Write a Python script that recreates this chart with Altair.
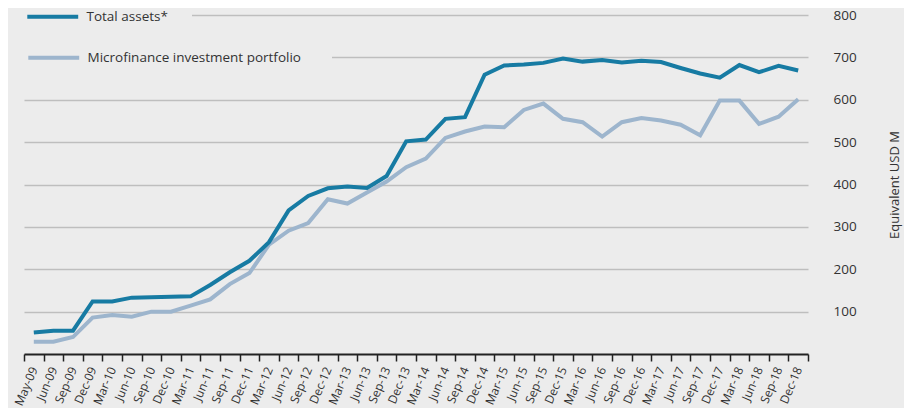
import altair as alt
import pandas as pd

months = ["May-09", "Jun-09", "Sep-09", "Dec-09", "Mar-10", "Jun-10", "Sep-10", "Dec-10",
          "Mar-11", "Jun-11", "Sep-11", "Dec-11", "Mar-12", "Jun-12", "Sep-12", "Dec-12",
          "Mar-13", "Jun-13", "Sep-13", "Dec-13", "Mar-14", "Jun-14", "Sep-14", "Dec-14",
          "Mar-15", "Jun-15", "Sep-15", "Dec-15", "Mar-16", "Jun-16", "Sep-16", "Dec-16",
          "Mar-17", "Jun-17", "Sep-17", "Dec-17", "Mar-18", "Jun-18", "Sep-18", "Dec-18"]

total_assets = [51, 55, 55, 124, 124, 133, 134, 135, 136, 163, 193, 220, 264, 339, 373, 391,
                395, 392, 420, 502, 506, 555, 559, 659, 681, 683, 687, 697, 690, 694, 688, 692,
                689, 675, 662, 652, 682, 665, 680, 669]

portfolio = [29, 29, 40, 86, 92, 88, 100, 100, 114, 129, 165, 191, 258, 291, 309, 365,
             355, 381, 407, 441, 461, 510, 525, 537, 535, 576, 591, 555, 547, 513, 547, 557,
             551, 541, 516, 598, 598, 543, 560, 601]

series_names = ["Total assets*", "Microfinance investment portfolio"]
series_colors = ["#177ba3", "#9db5cd"]
y_ticks = [100, 200, 300, 400, 500, 600, 700, 800]

df = pd.DataFrame({"month": months, series_names[0]: total_assets, series_names[1]: portfolio})
long = df.melt(id_vars="month", var_name="series", value_name="value")

FONT = "Open Sans"

x_enc = alt.X(
    "month:N", sort=months, bandPosition=0.5,
    scale=alt.Scale(type="band", paddingInner=0, paddingOuter=0),
    axis=alt.Axis(title=None, grid=False, tickBand="extent", labelAngle=-67,
                  labelFontSize=12, labelColor="#333333", labelFont=FONT,
                  domainColor="#222222", domainWidth=2, tickColor="#222222",
                  tickWidth=1.5, tickSize=7, labelPadding=6),
)
y_enc = alt.Y(
    "value:Q", scale=alt.Scale(domain=[0, 800], nice=False),
    axis=alt.Axis(orient="right", title="Equivalent USD M", values=y_ticks,
                  domain=False, ticks=False, grid=True, gridColor="#bebebe",
                  gridWidth=1.5, labelPadding=25, labelFontSize=13.5, labelFont=FONT,
                  labelColor="#333333", titleFont=FONT, titleFontSize=13,
                  titleFontWeight="normal", titleColor="#333333", titleAngle=270,
                  titlePadding=45),
)


def layer(name, color, lx, ly, pad):
    return alt.Chart(long).transform_filter(alt.datum.series == name).mark_line(
        strokeWidth=4, strokeJoin="miter"
    ).encode(
        x=x_enc, y=y_enc,
        color=alt.Color(
            "series:N",
            scale=alt.Scale(domain=[name], range=[color]),
            legend=alt.Legend(
                title=None, orient="none", legendX=lx, legendY=ly,
                symbolType="M-6,0H6", symbolSize=72, symbolStrokeWidth=4,
                labelOffset=27, labelFontSize=13.5, labelFont=FONT, labelColor="#333333",
                fillColor="#ececec", padding=pad, labelLimit=400,
            ),
        ),
    )


chart = alt.layer(
    layer(series_names[1], series_colors[1], -8, 5, 31),
    layer(series_names[0], series_colors[0], -2, -29, 24),
).resolve_scale(color="independent").properties(
    width=784, height=339,
    background="#ececec",
    padding={"left": 16, "top": 7, "right": 96, "bottom": 54},
    autosize=alt.AutoSizeParams(type="none"),
).configure_view(stroke=None)

chart.save("out.html", embed_options={"renderer": "svg", "actions": False})
